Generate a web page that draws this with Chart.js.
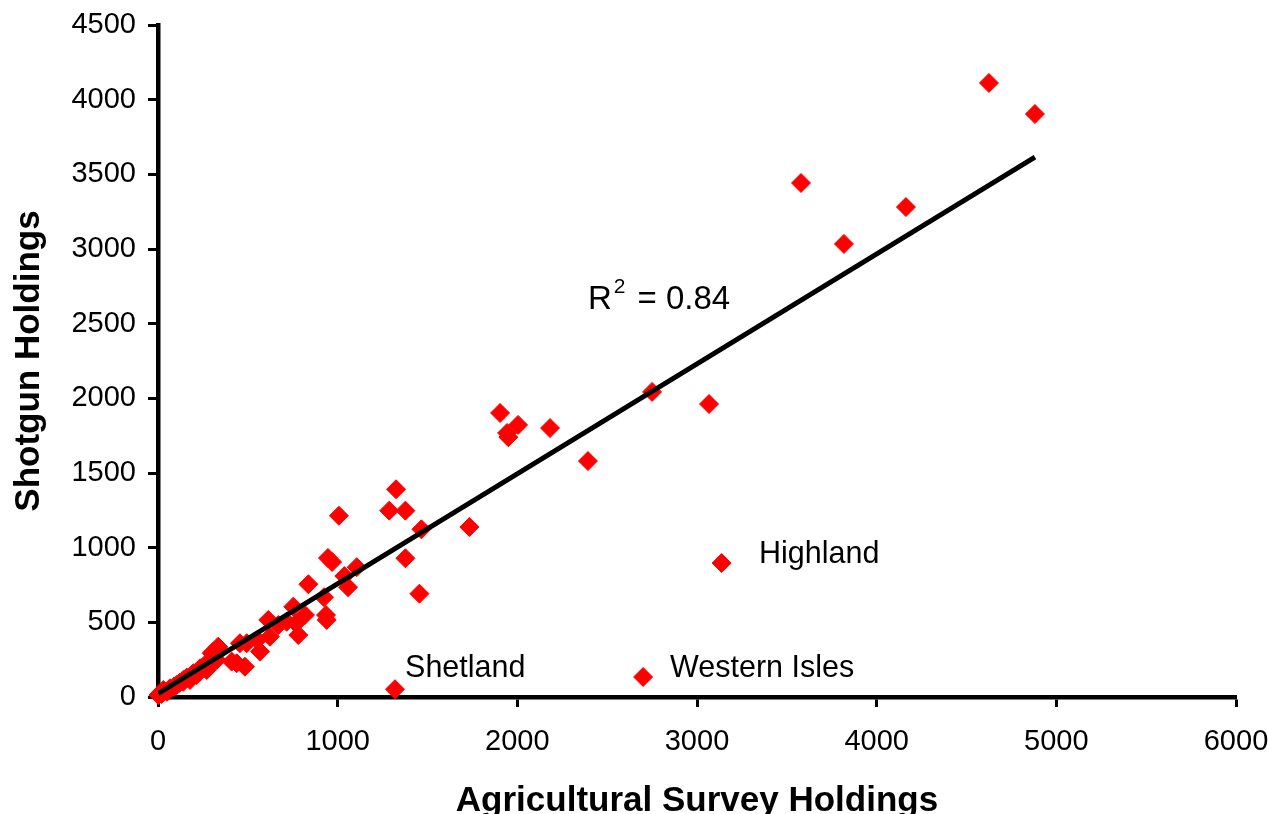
<!DOCTYPE html>
<html>
<head>
<meta charset="utf-8">
<script src="https://cdn.jsdelivr.net/npm/chart.js@4"></script>
<style>
  html, body { margin: 0; padding: 0; background: #ffffff; }
  canvas { display: block; }
</style>
</head>
<body>
<canvas id="c" width="1268" height="814"></canvas>
<script>
// ---- Data ----
const agriculturalSurveyHoldings = [
  4625, 4881, 3579, 4163, 3818, 2750, 3067, 1904, 2004, 1943, 1950, 2182, 2393,
  1325, 1287, 1377, 1466, 1733, 1007, 1377, 1455, 946, 969, 1106, 1037, 1058,
  924, 837, 935, 939, 818, 753, 768, 781, 716, 670, 614, 623, 553, 568, 456,
  494, 484, 438, 410, 345, 308, 327, 335, 299, 289, 280, 271, 243, 234, 196,
  215, 178, 141, 141, 104, 67, 30, 2, 20, 50, 90, 120, 160,
  1319, 3137, 2700
];
const shotgunHoldings = [
  4112, 3904, 3442, 3281, 3034, 2043, 1962, 1902, 1822, 1768, 1740, 1801, 1580,
  1391, 1248, 1248, 1123, 1138, 1214, 929, 692, 931, 904, 869, 810, 735,
  668, 755, 549, 516, 549, 605, 493, 415, 504, 482, 516, 404, 382, 304, 360,
  360, 203, 226, 237, 315, 304, 248, 337, 293, 214, 237, 181, 192, 192, 159,
  147, 114, 114, 102, 80, 58, 47, 13, 20, 35, 70, 95, 130,
  52, 897, 134
];
const trendX = [2, 4881];
const trendY = [24, 3615];
const xTickValues = [0, 1000, 2000, 3000, 4000, 5000, 6000];
const yTickValues = [0, 500, 1000, 1500, 2000, 2500, 3000, 3500, 4000, 4500];
const labelTexts = ['Highland', 'Shetland', 'Western Isles'];
const labelX = [3345, 1375, 2850];
const labelY = [897, 134, 134];
const rSquaredText = '0.84';
const rSquaredX = 2393;
const rSquaredY = 2598;

const FONT = '"Liberation Sans", Arial, Helvetica, sans-serif';

const points = agriculturalSurveyHoldings.map((x, i) => ({ x: x, y: shotgunHoldings[i] }));
const trendPoints = trendX.map((x, i) => ({ x: x, y: trendY[i] }));

const annotationPlugin = {
  id: 'annotations',
  afterDatasetsDraw(chart) {
    const ctx = chart.ctx;
    const xs = chart.scales.x, ys = chart.scales.y;
    ctx.save();
    ctx.fillStyle = '#000';
    ctx.textBaseline = 'alphabetic';
    ctx.textAlign = 'left';
    ctx.font = '30.5px ' + FONT;
    labelTexts.forEach((t, i) => {
      ctx.fillText(t, xs.getPixelForValue(labelX[i]), ys.getPixelForValue(labelY[i]));
    });
    // R squared
    const rx = xs.getPixelForValue(rSquaredX);
    const ry = ys.getPixelForValue(rSquaredY);
    ctx.font = '33px ' + FONT;
    ctx.fillText('R', rx, ry);
    const rw = ctx.measureText('R').width;
    ctx.font = '21px ' + FONT;
    ctx.fillText('2', rx + rw + 2, ry - 16);
    const sw = ctx.measureText('2').width;
    ctx.font = '33px ' + FONT;
    ctx.fillText('= ' + rSquaredText, rx + rw + 2 + sw + 12, ry);
    ctx.restore();
  }
};

new Chart(document.getElementById('c'), {
  type: 'scatter',
  data: {
    datasets: [
      {
        type: 'line',
        data: trendPoints,
        borderColor: '#000000',
        borderWidth: 5,
        pointRadius: 0,
        fill: false,
        showLine: true,
        order: 0
      },
      {
        data: points,
        pointStyle: 'rectRot',
        pointRadius: 9.5,
        backgroundColor: '#ff0000',
        borderColor: '#ff0000',
        borderWidth: 1,
        clip: false,
        order: 1
      }
    ]
  },
  options: {
    responsive: false,
    devicePixelRatio: 1,
    animation: false,
    layout: { padding: { left: 0, right: 32, top: 25, bottom: 0 } },
    plugins: { legend: { display: false }, tooltip: { enabled: false } },
    scales: {
      x: {
        type: 'linear',
        min: 0,
        max: 6000,
        afterBuildTicks(scale) { scale.ticks = xTickValues.map(v => ({ value: v })); },
        ticks: { color: '#000', font: { size: 29, family: FONT }, padding: 18, maxRotation: 0, callback: v => String(v) },
        grid: { drawOnChartArea: false, drawTicks: true, tickLength: 10, tickWidth: 3, tickColor: '#000' },
        border: { color: '#000', width: 4.5 },
        title: {
          display: true,
          text: 'Agricultural Survey Holdings',
          color: '#000',
          font: { size: 35, weight: 'bold', family: FONT },
          padding: { top: 0, bottom: -8 }
        },
        afterFit(scale) {
          scale.height = 117;
          scale.paddingLeft = 0;
          scale.paddingRight = 0;
        }
      },
      y: {
        type: 'linear',
        min: 0,
        max: 4500,
        afterBuildTicks(scale) { scale.ticks = yTickValues.map(v => ({ value: v })); },
        ticks: { color: '#000', font: { size: 29, family: FONT }, padding: 12, callback: v => String(v) },
        grid: { drawOnChartArea: false, drawTicks: true, tickLength: 10, tickWidth: 3, tickColor: '#000' },
        border: { color: '#000', width: 4.5 },
        title: {
          display: true,
          text: 'Shotgun Holdings',
          color: '#000',
          font: { size: 35, weight: 'bold', family: FONT },
          padding: { top: 8, bottom: 0 }
        },
        afterFit(scale) {
          scale.width = 158;
          scale.paddingTop = 0;
          scale.paddingBottom = 0;
        }
      }
    }
  },
  plugins: [annotationPlugin]
});
</script>
</body>
</html>
